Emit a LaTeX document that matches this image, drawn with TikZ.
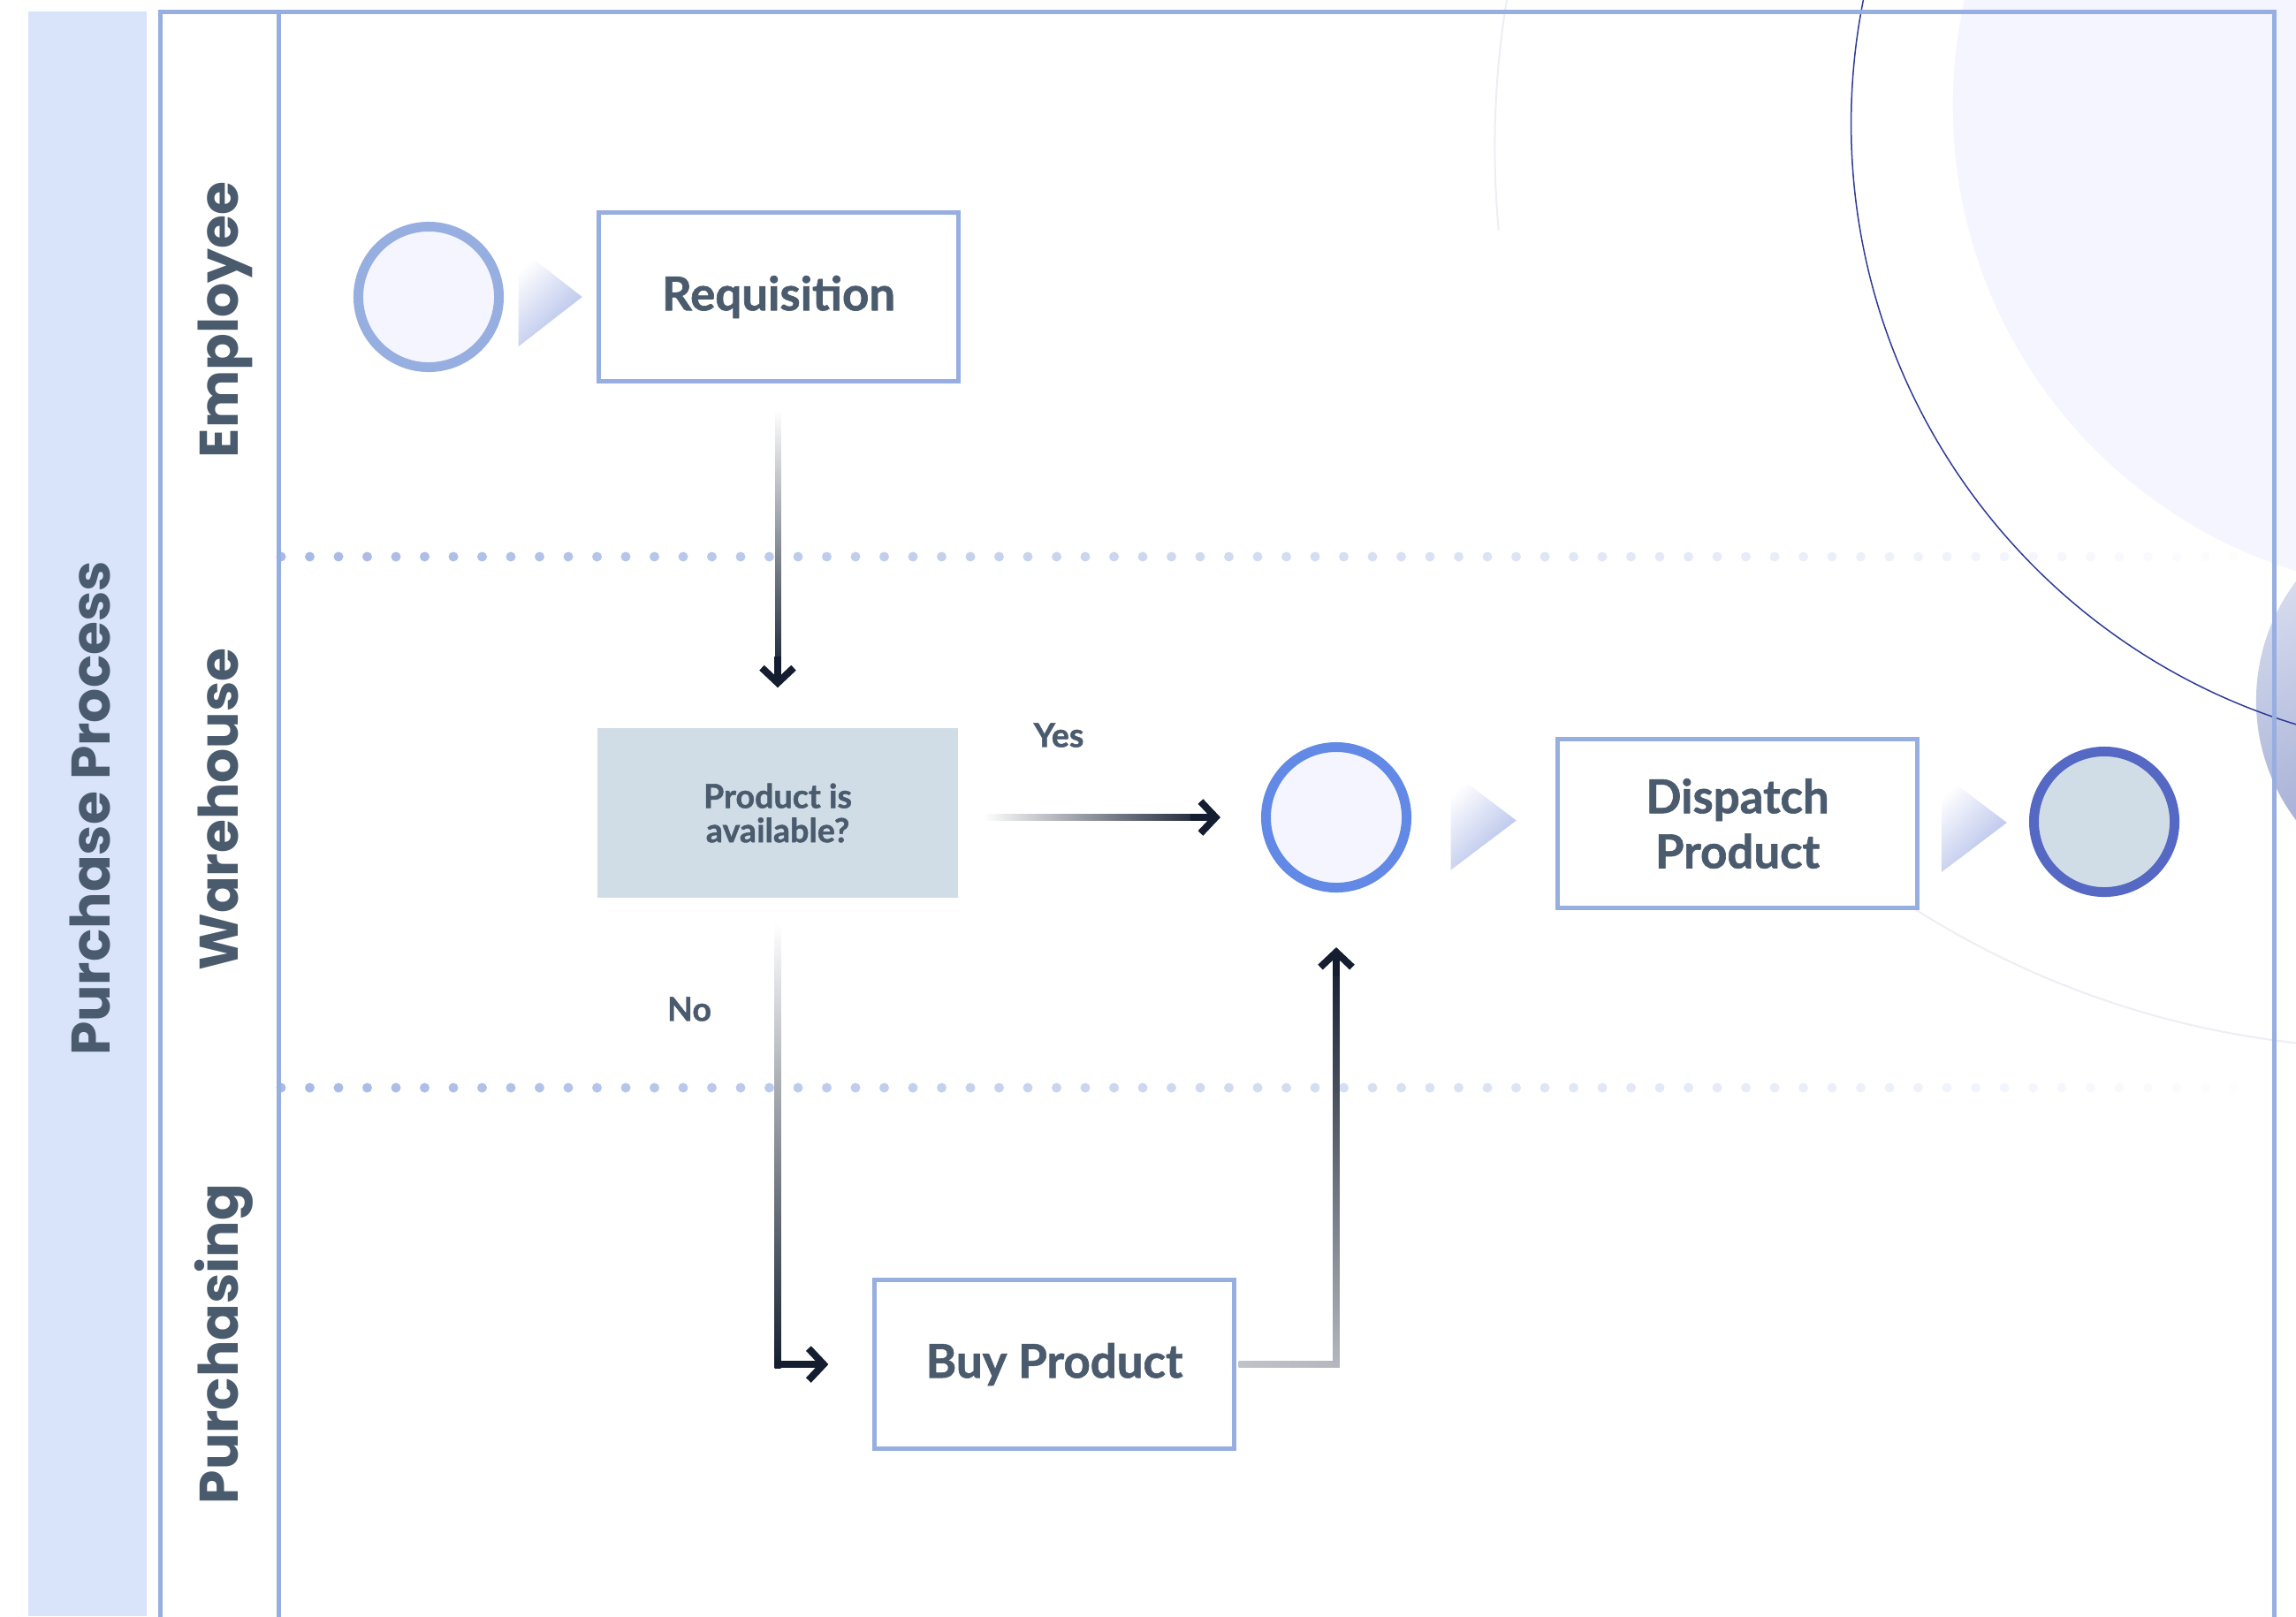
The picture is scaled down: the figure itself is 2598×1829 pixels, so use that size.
\documentclass[tikz,border=0pt]{standalone}
\usepackage{fontspec}
\setmainfont{Lato}[BoldFeatures={FakeBold=1.2}]
\newfontfamily\lanefont{Poppins}
\usetikzlibrary{arrows.meta}
\usetikzlibrary{calc}

\definecolor{bandblue}{HTML}{D9E3FA}
\definecolor{laneblue}{HTML}{97AEE0}
\definecolor{inkgray}{HTML}{4B5B6E}
\definecolor{softfill}{HTML}{F4F5FE}
\definecolor{midblue}{HTML}{6289E6}
\definecolor{endblue}{HTML}{5468C4}
\definecolor{decfill}{HTML}{D1DDE6}
\definecolor{flowdark}{HTML}{141E30}
\definecolor{flowgray}{HTML}{B4B8BE}
\definecolor{tripurple}{HTML}{AEBBE8}
\definecolor{navyarc}{HTML}{2E3C96}
\definecolor{faintarc}{HTML}{EDEDF4}
\definecolor{orbtop}{HTML}{DDE1F1}
\definecolor{orbbot}{HTML}{8C99C9}

\tikzset{
  lanelabel/.style={rotate=90, anchor=base, inner sep=0pt, text=inkgray, font=\lanefont\bfseries\fontsize{17.5}{21}\selectfont},
  taskbox/.style={draw=laneblue, line width=0.05cm, fill=white, minimum width=4.06cm, minimum height=1.9cm, text=inkgray, align=center, font=\bfseries\fontsize{15}{17.7}\selectfont},
  decisionbox/.style={fill=decfill, minimum width=4.07cm, minimum height=1.92cm, text=inkgray, align=center, font=\bfseries\fontsize{10.7}{11}\selectfont},
  eventnode/.style={circle, line width=0.11cm, minimum size=1.59cm, inner sep=0pt},
  flowlabel/.style={text=inkgray, font=\bfseries\fontsize{10.7}{13}\selectfont},
  flowtip/.style={draw=flowdark, line width=0.08cm, -{Straight Barb[length=0.17cm, width=0.36cm]}},
  pointer/.style={top color=white, bottom color=tripurple, shading angle=45},
}

\begin{document}
\begin{tikzpicture}[x=0.01cm, y=-0.01cm]
\useasboundingbox (0,0) rectangle (2598,1829);
\clip (0,0) rectangle (2598,1829);

\fill[softfill] (2760,120) circle[radius=5.5cm];
\shade[top color=orbtop, bottom color=orbbot, shading angle=20] (2778,793) circle[radius=2.25cm];
\draw[navyarc, line width=0.015cm] (2805,140) circle[radius=7.1cm];
\begin{scope}
  \clip (1600,0) rectangle (1800,260);
  \draw[faintarc, line width=0.02cm] (2712,166) circle[radius=10.2cm];
\end{scope}
\begin{scope}
  \clip (2150,1000) rectangle (2598,1400);
  \draw[faintarc, line width=0.02cm] (2712,166) circle[radius=10.2cm];
\end{scope}

\fill[bandblue] (32,13) rectangle (166,1829);
\draw[laneblue, line width=0.05cm] (181,1840) -- (181,13) -- (2573,13) -- (2573,1840);
\draw[laneblue, line width=0.05cm] (315,13) -- (315,1840);

\foreach \row in {630,1231}{
  \foreach \i in {0,...,68}{
    \pgfmathsetmacro\fadeop{0.85*(1-\i/70)}
    \fill[laneblue, opacity=\fadeop] (318+32.5*\i,\row) circle[radius=0.055cm];
  }
}

\node[lanelabel] (bandtitle) at (124,915) {Purchase Process};
\node[lanelabel] (laneemp) at (269,362) {Employee};
\node[lanelabel] (lanewh) at (269,916) {Warehouse};
\node[lanelabel] (lanepur) at (269,1521) {Purchasing};

\node[eventnode, draw=laneblue, fill=softfill] (start) at (485,336) {};
\node[taskbox] (req) at (881,336) {Requisition};
\node[decisionbox] (avail) at (880,920) {Product is\\available?};
\node[eventnode, draw=midblue, fill=softfill] (merge) at (1512,925) {};
\node[taskbox] (dispatch) at (1966,932) {Dispatch\\Product};
\node[eventnode, draw=endblue, fill=decfill] (finish) at (2381,930) {};
\node[taskbox] (buy) at (1193,1544) {Buy Product};
\node[flowlabel] (yes) at (1198,832) {Yes};
\node[flowlabel] (no) at (780,1142) {No};

\shade[pointer] ($(start.east)!.5!(req.west)+(-36,-56)$) -- ++(0,112) -- ++(72,-56) -- cycle;
\shade[pointer] ($(merge.east)!.5!(dispatch.west)+(-37,-56)$) -- ++(0,112) -- ++(74,-56) -- cycle;
\shade[pointer] ($(dispatch.east)!.5!(finish.west)+(-37,-56)$) -- ++(0,112) -- ++(74,-56) -- cycle;

\shade[top color=white, bottom color=flowdark] ($(req.south)+(-3.5,30)$) rectangle ($(avail.north)+(3.5,-55)$);
\draw[flowtip] ($(avail.north)+(0,-80)$) -- ($(avail.north)+(0,-45)$);

\shade[left color=white, right color=flowdark] ($(avail.east |- merge.west)+(28,-3.5)$) rectangle ($(merge.west)+(-60,3.5)$);
\draw[flowtip] ($(merge.west)+(-80,0)$) -- ($(merge.west)+(-46,0)$);

\shade[top color=white, bottom color=flowdark] ($(avail.south)+(-3.5,28)$) rectangle ($(avail.south |- buy.west)+(3.5,4)$);
\draw[flowtip] ($(avail.south |- buy.west)+(-3.5,0)$) -- ($(buy.west)+(-50,0)$);

\shade[left color=flowgray!85, right color=flowgray] ($(buy.east)+(3,-3.5)$) rectangle ($(buy.east -| merge.south)+(3.5,3.5)$);
\shade[top color=flowdark, bottom color=flowgray] ($(buy.east -| merge.south)+(-3.5,3.5)$) rectangle ($(merge.south)+(3.5,75)$);
\draw[flowtip] ($(merge.south)+(0,95)$) -- ($(merge.south)+(0,62)$);
\end{tikzpicture}
\end{document}
